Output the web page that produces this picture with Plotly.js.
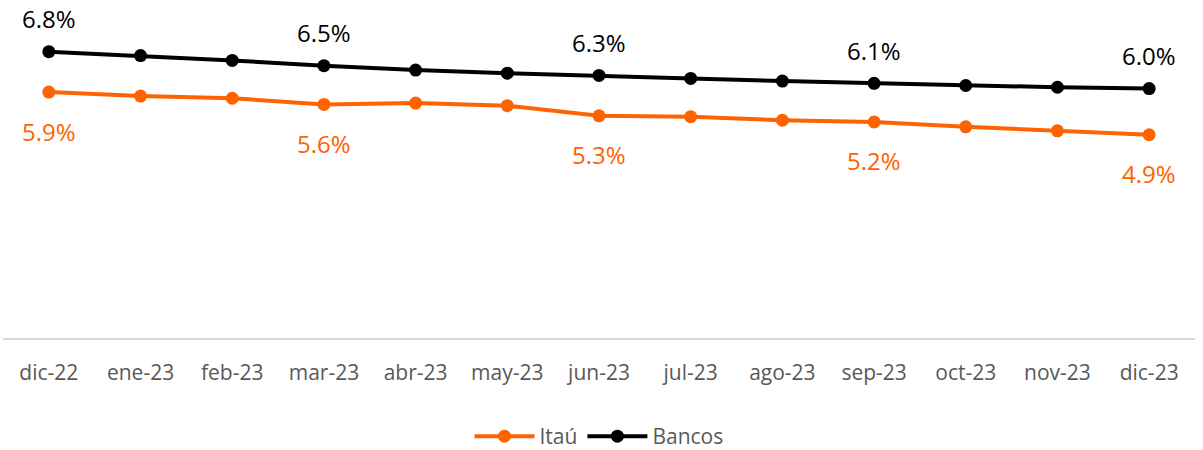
<!DOCTYPE html>
<html>
<head>
<meta charset="utf-8">
<script src="https://cdn.plot.ly/plotly-3.0.1.min.js"></script>
<style>html,body{margin:0;padding:0;background:#fff;}#chart{width:1203px;height:450px;}</style>
</head>
<body>
<div id="chart"></div>
<script>
const months = ["dic-22","ene-23","feb-23","mar-23","abr-23","may-23","jun-23","jul-23","ago-23","sep-23","oct-23","nov-23","dic-23"];
const itau   = [5.88, 5.79, 5.74, 5.60, 5.63, 5.57, 5.34, 5.32, 5.24, 5.20, 5.09, 5.00, 4.91];
const bancos = [6.80, 6.71, 6.60, 6.48, 6.38, 6.31, 6.26, 6.19, 6.13, 6.08, 6.03, 5.99, 5.96];
const labelIdx = [0, 3, 6, 9, 12];

const ORANGE = "#ff6200";
const BLACK = "#000000";
const FONT = "Open Sans, Noto Sans, sans-serif";

const traces = [
  {name: "Itaú", x: months, y: itau, type: "scatter", mode: "lines+markers",
   line: {color: ORANGE, width: 4}, marker: {color: ORANGE, size: 13}, cliponaxis: false},
  {name: "Bancos", x: months, y: bancos, type: "scatter", mode: "lines+markers",
   line: {color: BLACK, width: 4}, marker: {color: BLACK, size: 13}, cliponaxis: false}
];

const annotations = [];
labelIdx.forEach(i => {
  annotations.push({x: months[i], y: bancos[i], xref: "x", yref: "y", text: bancos[i].toFixed(1) + "%",
    showarrow: false, yshift: 33, font: {family: FONT, size: 24, color: BLACK}});
  annotations.push({x: months[i], y: itau[i], xref: "x", yref: "y", text: itau[i].toFixed(1) + "%",
    showarrow: false, yshift: -39, font: {family: FONT, size: 24, color: ORANGE}});
});

const layout = {
  width: 1203, height: 450,
  margin: {l: 3, r: 8, t: 0, b: 112},
  paper_bgcolor: "#ffffff", plot_bgcolor: "#ffffff",
  showlegend: true,
  legend: {orientation: "h", x: 0.5, xanchor: "center", y: 0.03, yref: "container", yanchor: "middle",
    font: {family: FONT, size: 21, color: "#595959"}, itemwidth: 60, traceorder: "normal"},
  xaxis: {type: "category", showgrid: false, zeroline: false, showline: true, linecolor: "#d9d9d9", linewidth: 2,
    ticks: "outside", ticklen: 15, tickcolor: "rgba(0,0,0,0)",
    tickfont: {family: FONT, size: 21, color: "#595959"}, range: [-0.5, 12.5], fixedrange: true},
  yaxis: {visible: false, range: [0.286, 7.975], showgrid: false, zeroline: false, fixedrange: true},
  annotations: annotations
};

Plotly.newPlot("chart", traces, layout, {displayModeBar: false, staticPlot: true});
</script>
</body>
</html>
